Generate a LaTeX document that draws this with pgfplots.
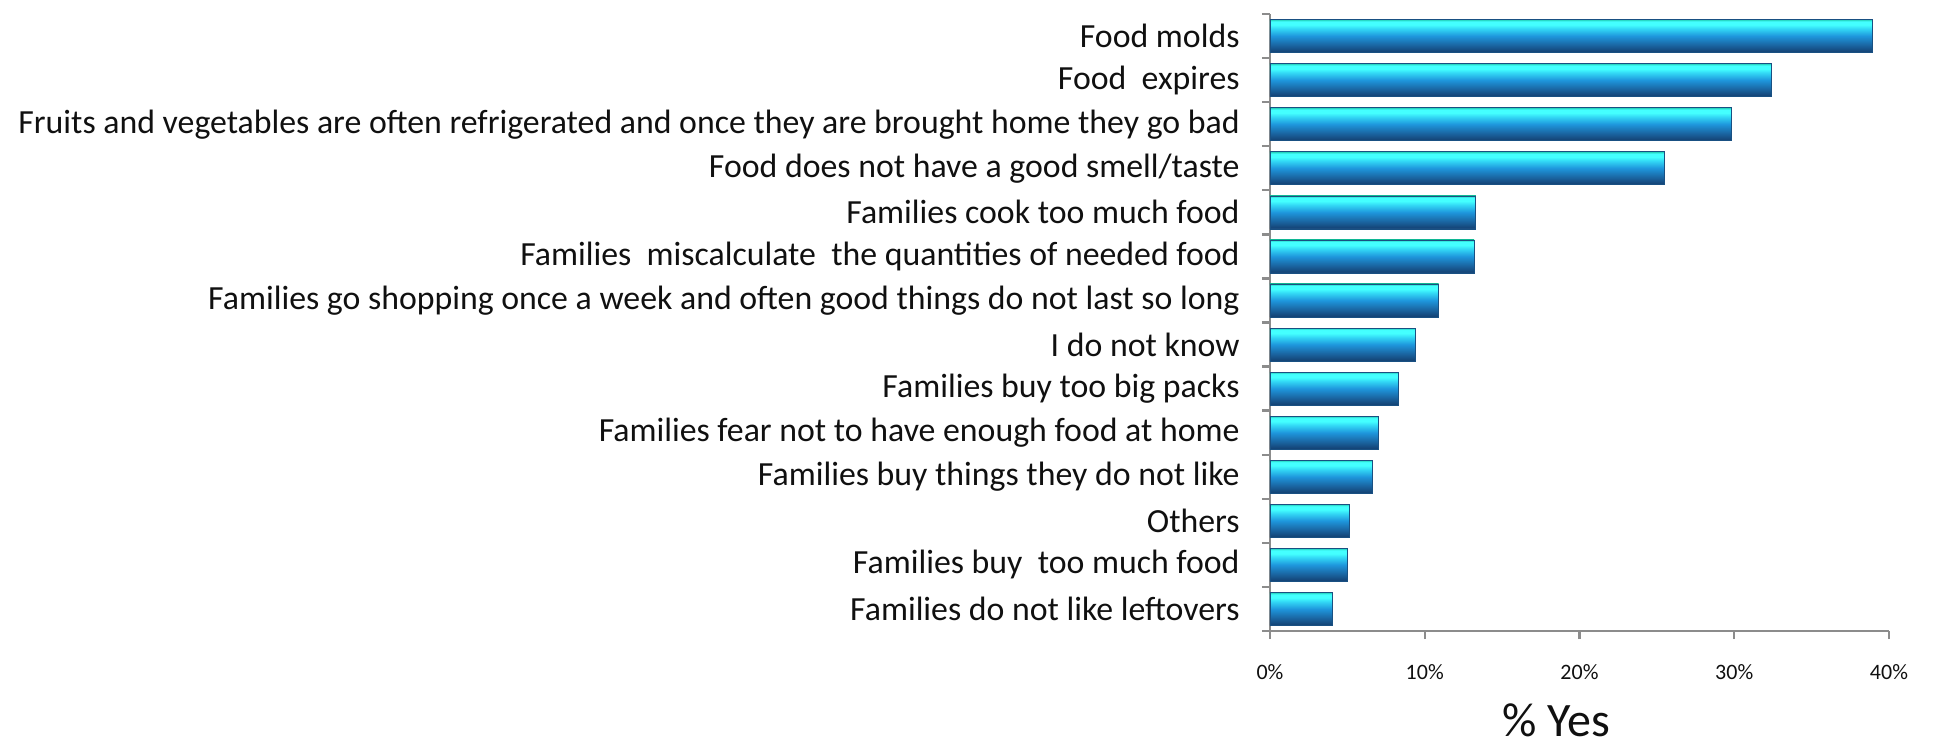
\documentclass[border=0pt]{standalone}
\usepackage{pgfplots}
\pgfplotsset{compat=1.18}
\usepackage{fontspec}
\setmainfont{Carlito}
\definecolor{axgray}{RGB}{140,140,140}
\definecolor{sEdgeB}{RGB}{70,130,190}
\definecolor{sDark}{RGB}{20,68,118}
\definecolor{sLow}{RGB}{26,100,160}
\definecolor{sMid}{RGB}{30,150,220}
\definecolor{sUp}{RGB}{50,215,245}
\definecolor{sBright}{RGB}{68,255,255}
\definecolor{sEdgeT}{RGB}{32,205,180}
\definecolor{barEdge}{RGB}{25,80,130}
\definecolor{txt}{RGB}{16,16,16}
\pgfdeclareverticalshading{barshade}{100bp}{%
  color(0bp)=(sEdgeB); color(25bp)=(sEdgeB); color(26.5bp)=(sDark);
  color(36bp)=(sLow); color(50bp)=(sMid); color(61bp)=(sUp);
  color(67bp)=(sBright); color(72bp)=(sBright); color(75bp)=(sEdgeT);
  color(100bp)=(sEdgeT)}
\pgfplotsset{mybar/.style={xbar, bar width=0.75, bar shift=0pt,
  draw=barEdge, line width=0.3pt, shading=barshade}}
\begin{document}
\begin{tikzpicture}
\path[use as bounding box] (-635pt,-60.5pt) rectangle ++(967pt,376pt);
\begin{axis}[
  at={(0,0)}, anchor=south west,
  scale only axis,
  width=309.5pt, height=308.5pt,
  xmin=0, xmax=40,
  ymin=-0.5, ymax=13.5,
  axis x line*=bottom, axis y line*=left,
  axis line style={axgray, line width=1.2pt},
  every tick/.style={axgray, line width=1.2pt},
  tick align=outside,
  xtick={0,10,20,30,40},
  xticklabel={\pgfmathprintnumber{\tick}\%},
  /pgf/number format/assume math mode=true,
  xticklabel style={font=\fontsize{11}{13}\selectfont, text=txt, yshift=-9pt},
  ytick={0,...,13},
  major y tick style={draw=none},
  minor ytick={-0.5,0.5,...,13.5},
  minor tick length=4pt,
  major tick length=4pt,
  yticklabels={
    Families do not like leftovers,
    Families buy\ \ too much food\ ,
    Others,
    Families buy things they do not like,
    Families fear not to have enough food at home,
    Families buy too big packs,
    I do not know,
    Families go shopping once a week and often good things do not last so long,
    Families\ \ miscalculate\ \ the quantities of needed food\ ,
    Families cook too much food,
    Food does not have a good smell/taste,
    Fruits and vegetables are often refrigerated and once they are brought home they go bad,
    Food\ \ expires,
    Food molds},
  yticklabel style={font=\fontsize{16.9}{19}\selectfont, text=txt, anchor=east, inner sep=0pt, xshift=-11pt},
  xlabel={\% Yes},
  xlabel style={at={(axis description cs:0.462,0)}, anchor=base, inner sep=0pt, yshift=-52.5pt, font=\fontsize{24}{28}\selectfont, text=txt},
  clip=false,
]
\addplot[mybar] coordinates {(4.0,0)};
\addplot[mybar] coordinates {(5.0,1)};
\addplot[mybar] coordinates {(5.1,2)};
\addplot[mybar] coordinates {(6.6,3)};
\addplot[mybar] coordinates {(7.0,4)};
\addplot[mybar] coordinates {(8.3,5)};
\addplot[mybar] coordinates {(9.4,6)};
\addplot[mybar] coordinates {(10.9,7)};
\addplot[mybar] coordinates {(13.2,8)};
\addplot[mybar] coordinates {(13.3,9)};
\addplot[mybar] coordinates {(25.5,10)};
\addplot[mybar] coordinates {(29.8,11)};
\addplot[mybar] coordinates {(32.4,12)};
\addplot[mybar] coordinates {(38.9,13)};
\end{axis}
\end{tikzpicture}
\end{document}
